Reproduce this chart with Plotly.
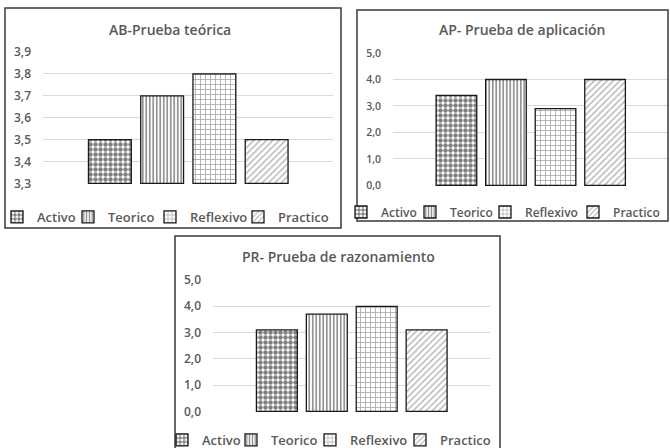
import plotly.graph_objects as go

# Learning styles (one bar each) and the three test results
categorias = ["Activo", "Teorico", "Reflexivo", "Practico"]
titulos = ["AB-Prueba teórica", "AP- Prueba de aplicación", "PR- Prueba de razonamiento"]
ab_valores = [3.5, 3.7, 3.8, 3.5]
ap_valores = [3.4, 4.0, 2.9, 4.0]
pr_valores = [3.1, 3.7, 4.0, 3.1]
ab_ticks = [3.3, 3.4, 3.5, 3.6, 3.7, 3.8, 3.9]
ap_ticks = [0, 1, 2, 3, 4, 5]
pr_ticks = [0, 1, 2, 3, 4, 5]

W, H = 670, 448
GRIS = "#595959"
FUENTE = "Open Sans"

# hatch fill for each learning style
patrones = {
    "Activo": dict(shape=".", size=5, solidity=0.62, fgcolor="#000000", bgcolor="#ffffff", fillmode="overlay"),
    "Teorico": dict(shape="|", size=3.5, solidity=0.45, fgcolor="#111111", bgcolor="#ffffff", fillmode="overlay"),
    "Reflexivo": dict(shape="+", size=5, solidity=0.3, fgcolor="#4d4d4d", bgcolor="#ffffff", fillmode="overlay"),
    "Practico": dict(shape="/", size=4.5, solidity=0.35, fgcolor="#777777", bgcolor="#ffffff", fillmode="overlay"),
}


def px_x(p):
    return p / W


def px_y(p):
    return 1 - p / H


paneles = [
    dict(vals=ab_valores, ticks=ab_ticks, base=3.3, xd=(43, 333), yd=(184, 52),
         leg_x=[37, 108, 190, 278], leg_y=217, leg_size=13,
         tit=(170, 29), standoff=11, tick_size=12),
    dict(vals=ap_valores, ticks=ap_ticks, base=0.0, xd=(393, 668), yd=(186, 53),
         leg_x=[381, 450, 525, 613], leg_y=212, leg_size=12,
         tit=(522, 29), standoff=11, tick_size=10.5),
    dict(vals=pr_valores, ticks=pr_ticks, base=0.0, xd=(213, 490), yd=(412, 280),
         leg_x=[202, 271, 350, 440], leg_y=440, leg_size=13,
         tit=(338, 256), standoff=11, tick_size=12),
]

# distance from a legend box's left edge to its entry text
LEG_TEXT_OFFSET = 40

fig = go.Figure()
layout = dict(
    width=W, height=H, margin=dict(l=0, r=0, t=0, b=0, autoexpand=False),
    paper_bgcolor="white", plot_bgcolor="white",
    separators=",.", barmode="overlay", showlegend=True,
    font=dict(family=FUENTE, color=GRIS),
)
annotations = []
shapes = []

k = 0
for i, p in enumerate(paneles):
    sfx = "" if i == 0 else str(i + 1)
    for j, (cat, v) in enumerate(zip(categorias, p["vals"])):
        k += 1
        leg = "legend" if k == 1 else f"legend{k}"
        fig.add_trace(go.Bar(
            x=[cat], y=[round(v - p["base"], 6)], base=[p["base"]], name=cat,
            width=[0.82],
            xaxis="x" + sfx, yaxis="y" + sfx, legend=leg,
            marker=dict(color="white", pattern=patrones[cat],
                        line=dict(color="#1a1a1a", width=1.3)),
            hovertemplate=cat + ": %{customdata:.1f}<extra></extra>",
            customdata=[v],
        ))
        layout[leg] = dict(
            orientation="h", xanchor="left", yanchor="middle",
            x=px_x(p["leg_x"][j] - LEG_TEXT_OFFSET), y=px_y(p["leg_y"]),
            font=dict(family=FUENTE, size=p["leg_size"], color=GRIS, weight=600),
            bgcolor="rgba(0,0,0,0)", itemwidth=30,
            itemclick=False, itemdoubleclick=False,
        )
    span = p["ticks"][-1] - p["ticks"][0]
    layout["xaxis" + sfx] = dict(
        domain=[px_x(p["xd"][0]), px_x(p["xd"][1])],
        anchor="y" + sfx, type="category",
        categoryorder="array", categoryarray=categorias,
        range=[-1.28, 4.27], showticklabels=False, showgrid=False,
        zeroline=False, showline=False, ticks="",
    )
    layout["yaxis" + sfx] = dict(
        domain=[px_y(p["yd"][0]), px_y(p["yd"][1])],
        anchor="x" + sfx, automargin=False,
        range=[p["ticks"][0] - span * 0.004, p["ticks"][-1]],
        tickvals=p["ticks"], tickformat=".1f",
        showgrid=True, gridcolor="#d9d9d9", gridwidth=1,
        zeroline=False, showline=False, ticks="",
        ticklabelstandoff=p["standoff"],
        tickfont=dict(family=FUENTE, size=p["tick_size"], color=GRIS, weight=600),
    )
    annotations.append(dict(
        text=titulos[i], xref="paper", yref="paper",
        x=px_x(p["tit"][0]), y=px_y(p["tit"][1]),
        xanchor="center", yanchor="middle", showarrow=False,
        font=dict(family=FUENTE, size=14, color=GRIS, weight=600),
    ))

# chart frames
for (x0, y0, x1, y1) in [(5, 8, 341, 228), (357, 10, 668, 221), (175, 236, 500, 455)]:
    shapes.append(dict(
        type="rect", xref="paper", yref="paper",
        x0=px_x(x0), x1=px_x(x1), y0=px_y(y1), y1=px_y(y0),
        line=dict(color="#3a3a3a", width=1.5), fillcolor="rgba(0,0,0,0)",
    ))

layout["annotations"] = annotations
layout["shapes"] = shapes
fig.update_layout(**layout)
fig.write_html("out.html")
